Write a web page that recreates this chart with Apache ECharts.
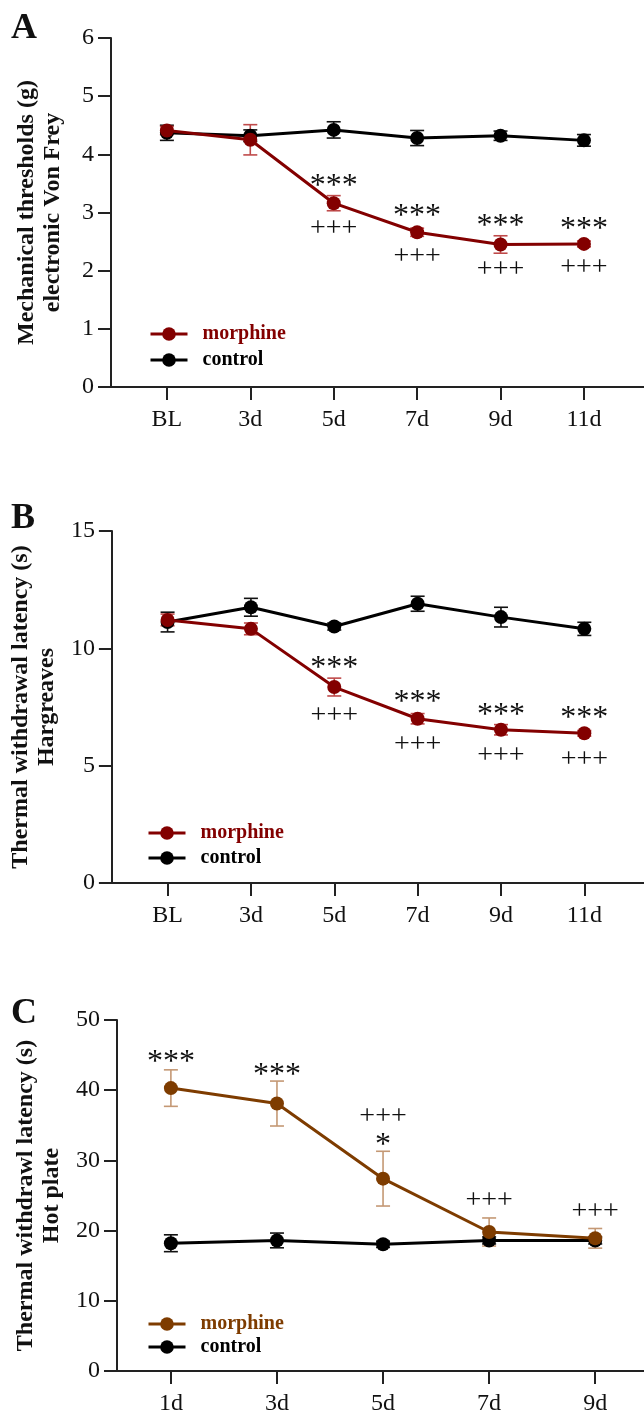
<!DOCTYPE html>
<html lang="en">
<head>
<meta charset="UTF-8">
<title>Morphine tolerance</title>
<style>
  html, body { margin: 0; padding: 0; background: #fff; }
  #main { width: 644px; height: 1416px; }
</style>
</head>
<body>
<div id="main"></div>
<script src="https://cdn.jsdelivr.net/npm/echarts@6/dist/echarts.min.js"></script>
<script>
// ---- data ----
var daysAB = ['BL', '3d', '5d', '7d', '9d', '11d'];
var daysC = ['1d', '3d', '5d', '7d', '9d'];

// A: electronic von Frey (g)
var aMorphine = [4.41, 4.25, 3.16, 2.66, 2.45, 2.46];
var aMorphineErr = [0.07, 0.26, 0.13, 0.07, 0.15, 0.05];
var aControl = [4.37, 4.32, 4.42, 4.28, 4.32, 4.24];
var aControlErr = [0.13, 0.10, 0.14, 0.13, 0.08, 0.10];
var aMarks = [[2, 3.57, '***'], [2, 2.73, '+++'], [3, 3.05, '***'], [3, 2.24, '+++'],
              [4, 2.87, '***'], [4, 2.02, '+++'], [5, 2.82, '***'], [5, 2.05, '+++']];

// B: Hargreaves (s)
var bMorphine = [11.21, 10.83, 8.35, 7.00, 6.53, 6.38];
var bMorphineErr = [0.25, 0.25, 0.38, 0.22, 0.22, 0.12];
var bControl = [11.12, 11.75, 10.93, 11.90, 11.33, 10.83];
var bControlErr = [0.42, 0.38, 0.15, 0.32, 0.42, 0.28];
var bMarks = [[2, 9.44, '***'], [2, 7.15, '+++'], [3, 7.99, '***'], [3, 5.90, '+++'],
              [4, 7.43, '***'], [4, 5.42, '+++'], [5, 7.29, '***'], [5, 5.26, '+++']];

// C: hot plate (s)
var cMorphine = [40.3, 38.1, 27.4, 19.8, 18.9];
var cMorphineErr = [2.6, 3.2, 3.9, 2.0, 1.4];
var cControl = [18.2, 18.6, 18.05, 18.6, 18.6];
var cControlErr = [1.2, 1.05, 0.45, 0.5, 0.5];
var cMarks = [[0, 44.95, '***'], [1, 43.07, '***'], [2, 36.18, '+++'], [2, 33.1, '*'],
              [3, 24.3, '+++'], [4, 22.64, '+++']];

var SERIF = '"Liberation Serif", "Times New Roman", serif';
var RED = '#830000', RED_ERR = '#bf4a4a';
var BROWN = '#7e3c00', BROWN_ERR = '#c49874';
var AXIS = '#222';

var myChart = echarts.init(document.getElementById('main'), null, { renderer: 'canvas' });

function pts(vals) {
  return vals.map(function (v, i) { return [i, v]; });
}

function errorBars(idx, means, errs, color) {
  return {
    type: 'custom', xAxisIndex: idx, yAxisIndex: idx, silent: true, z: 1,
    data: means.map(function (m, i) { return [i, m, errs[i]]; }),
    renderItem: function (params, api) {
      var x = api.value(0), m = api.value(1), e = api.value(2);
      var hi = api.coord([x, m + e]), lo = api.coord([x, m - e]);
      var w = 7, st = { stroke: color, lineWidth: 1.6 };
      return { type: 'group', children: [
        { type: 'line', shape: { x1: hi[0], y1: hi[1], x2: lo[0], y2: lo[1] }, style: st },
        { type: 'line', shape: { x1: hi[0] - w, y1: hi[1], x2: hi[0] + w, y2: hi[1] }, style: st },
        { type: 'line', shape: { x1: lo[0] - w, y1: lo[1], x2: lo[0] + w, y2: lo[1] }, style: st }
      ] };
    }
  };
}

function marks(idx, list) {
  return {
    type: 'custom', xAxisIndex: idx, yAxisIndex: idx, silent: true, z: 5,
    data: list,
    renderItem: function (params, api) {
      var p = api.coord([api.value(0), api.value(1)]);
      var txt = list[params.dataIndex][2];
      var star = txt.indexOf('*') >= 0;
      return { type: 'text', x: p[0], y: p[1] + (star ? 7 : 0), style: {
        text: txt, fill: '#111', align: 'center', verticalAlign: 'middle',
        font: (star ? '32px ' : '28px ') + SERIF
      } };
    }
  };
}

function line(idx, name, vals, color, z) {
  return {
    type: 'line', name: name, xAxisIndex: idx, yAxisIndex: idx, z: z,
    data: pts(vals), symbol: 'circle', symbolSize: 14,
    lineStyle: { color: color, width: 3 },
    itemStyle: { color: color },
    emphasis: { disabled: true }
  };
}

function xAxis(idx, days, lo, hi) {
  var ticks = days.map(function (d, i) { return i; });
  return {
    type: 'value', gridIndex: idx, min: lo, max: hi,
    axisLine: { onZero: false, lineStyle: { color: AXIS, width: 2 } },
    axisTick: { customValues: ticks, length: 13, lineStyle: { color: AXIS, width: 2 } },
    axisLabel: { customValues: ticks, margin: 21, color: '#111', fontFamily: SERIF, fontSize: 24,
                 formatter: function (v) { return days[Math.round(v)]; } },
    splitLine: { show: false }
  };
}

function yAxis(idx, max, step, title) {
  return {
    type: 'value', gridIndex: idx, min: 0, max: max, interval: step,
    name: title, nameLocation: 'middle', nameRotate: 90, nameGap: 45,
    nameTextStyle: { fontFamily: SERIF, fontWeight: 'bold', fontSize: 24, lineHeight: 26, color: '#111' },
    axisLine: { show: true, onZero: false, lineStyle: { color: AXIS, width: 2 } },
    axisTick: { show: true, length: 13, lineStyle: { color: AXIS, width: 2 } },
    axisLabel: { margin: 17, color: '#111', fontFamily: SERIF, fontSize: 24 },
    splitLine: { show: false }
  };
}

function legend(left, top, gap, tag, color) {
  return {
    left: left, top: top, orient: 'vertical', itemWidth: 37, itemHeight: 17, itemGap: gap,
    selectedMode: false,
    lineStyle: { width: 3 },
    data: [{ name: 'morphine ' + tag, textStyle: { color: color } }, { name: 'control ' + tag }],
    formatter: function (n) { return n.split(' ')[0]; },
    textStyle: { fontFamily: SERIF, fontWeight: 'bold', fontSize: 20, lineHeight: 20, color: '#000',
                 padding: [0, 0, 0, 10] }
  };
}

function letter(txt, top) {
  return { type: 'text', left: 11, top: top,
           style: { text: txt, font: 'bold 36px ' + SERIF, fill: '#111' } };
}

var option = {
  animation: false,
  backgroundColor: '#fff',
  grid: [
    { left: 111, top: 38, right: 0, height: 349 },
    { left: 109, top: 531, right: 0, height: 352 },
    { left: 117, top: 1020, right: 0, height: 355 }
  ],
  xAxis: [
    xAxis(0, daysAB, -0.67, 5.72),
    xAxis(1, daysAB, -0.668, 5.716),
    xAxis(2, daysC, -0.508, 4.46)
  ],
  yAxis: [
    yAxis(0, 6, 1, 'Mechanical thresholds (g)\nelectronic Von Frey'),
    yAxis(1, 15, 5, 'Thermal withdrawal latency (s)\nHargreaves'),
    yAxis(2, 50, 10, 'Thermal withdrawl latency (s)\nHot plate')
  ],
  legend: [
    legend(144, 319, 6, 'A', RED),
    legend(142, 818, 5, 'B', RED),
    legend(142, 1309, 3, 'C', BROWN)
  ],
  graphic: [letter('A', 11), letter('B', 501), letter('C', 996)],
  series: [
    errorBars(0, aControl, aControlErr, '#111'),
    errorBars(0, aMorphine, aMorphineErr, RED_ERR),
    line(0, 'control A', aControl, '#000', 2),
    line(0, 'morphine A', aMorphine, RED, 3),
    marks(0, aMarks),

    errorBars(1, bControl, bControlErr, '#111'),
    errorBars(1, bMorphine, bMorphineErr, RED_ERR),
    line(1, 'control B', bControl, '#000', 2),
    line(1, 'morphine B', bMorphine, RED, 3),
    marks(1, bMarks),

    errorBars(2, cControl, cControlErr, '#111'),
    errorBars(2, cMorphine, cMorphineErr, BROWN_ERR),
    line(2, 'control C', cControl, '#000', 2),
    line(2, 'morphine C', cMorphine, BROWN, 3),
    marks(2, cMarks)
  ]
};

myChart.setOption(option);
</script>
</body>
</html>
